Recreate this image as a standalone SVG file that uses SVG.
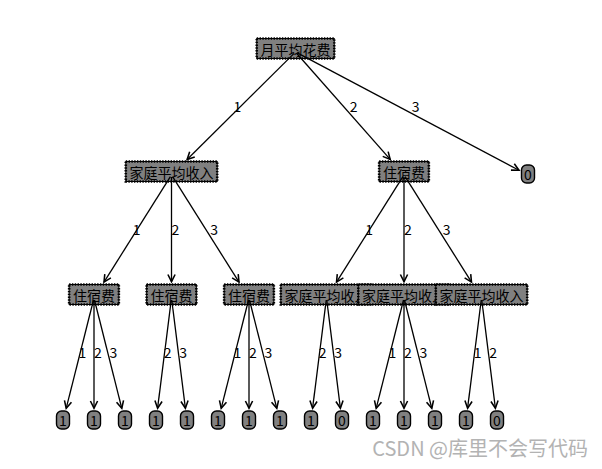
<svg xmlns="http://www.w3.org/2000/svg" width="602" height="469" viewBox="0 0 602 469">
<style>
.bg{fill:#ffffff}
.dec rect.f{fill:#808080;stroke:#000;stroke-width:1}
.dec rect.t{fill:none;stroke:#000;stroke-width:2.6;stroke-dasharray:1.4 1.4}
.leaf rect{fill:#808080;stroke:#000;stroke-width:1.4}
text{font-family:"Noto Sans CJK SC","DejaVu Sans",sans-serif;font-size:14px;fill:#000}
.nt{text-anchor:middle;dominant-baseline:central}
.lb{text-anchor:start}
.edges line{stroke:#000;stroke-width:1.3;marker-end:url(#ah)}
.wm{font-size:20px;fill:#b3b3b3;text-anchor:end}
</style>
<defs>
<marker id="ah" markerUnits="userSpaceOnUse" markerWidth="12" markerHeight="12" viewBox="-8 -5 10 10" refX="0" refY="0" orient="auto">
<path d="M-6,-3 L0,0 L-6,3" fill="none" stroke="#000" stroke-width="1.3"/>
</marker>
</defs>
<rect class="bg" x="0" y="0" width="602" height="469"/>

<g id="n-root" class="dec"><rect class="f" x="256.75" y="38.5" width="77.5" height="20"/><rect class="t" x="256.75" y="38.5" width="77.5" height="20"/><text class="nt" x="295.5" y="48.5">月平均花费</text></g>
<g id="n-A" class="dec"><rect class="f" x="125.8" y="161.5" width="91.4" height="20"/><rect class="t" x="125.8" y="161.5" width="91.4" height="20"/><text class="nt" x="171.5" y="171.5">家庭平均收入</text></g>
<g id="n-A1" class="dec"><rect class="f" x="69.15" y="284.5" width="49.7" height="20"/><rect class="t" x="69.15" y="284.5" width="49.7" height="20"/><text class="nt" x="94" y="294.5">住宿费</text></g>
<g id="l-1" class="leaf"><rect x="56.5" y="411" width="13" height="18" rx="5"/><text class="nt" x="63" y="420">1</text></g>
<g id="l-2" class="leaf"><rect x="87.5" y="411" width="13" height="18" rx="5"/><text class="nt" x="94" y="420">1</text></g>
<g id="l-3" class="leaf"><rect x="118.5" y="411" width="13" height="18" rx="5"/><text class="nt" x="125" y="420">1</text></g>
<g id="n-A2" class="dec"><rect class="f" x="146.65" y="284.5" width="49.7" height="20"/><rect class="t" x="146.65" y="284.5" width="49.7" height="20"/><text class="nt" x="171.5" y="294.5">住宿费</text></g>
<g id="l-4" class="leaf"><rect x="149.5" y="411" width="13" height="18" rx="5"/><text class="nt" x="156" y="420">1</text></g>
<g id="l-5" class="leaf"><rect x="180.5" y="411" width="13" height="18" rx="5"/><text class="nt" x="187" y="420">1</text></g>
<g id="n-A3" class="dec"><rect class="f" x="224.15" y="284.5" width="49.7" height="20"/><rect class="t" x="224.15" y="284.5" width="49.7" height="20"/><text class="nt" x="249" y="294.5">住宿费</text></g>
<g id="l-6" class="leaf"><rect x="211.5" y="411" width="13" height="18" rx="5"/><text class="nt" x="218" y="420">1</text></g>
<g id="l-7" class="leaf"><rect x="242.5" y="411" width="13" height="18" rx="5"/><text class="nt" x="249" y="420">1</text></g>
<g id="l-8" class="leaf"><rect x="273.5" y="411" width="13" height="18" rx="5"/><text class="nt" x="280" y="420">1</text></g>
<g id="n-B" class="dec"><rect class="f" x="379.15" y="161.5" width="49.7" height="20"/><rect class="t" x="379.15" y="161.5" width="49.7" height="20"/><text class="nt" x="404" y="171.5">住宿费</text></g>
<g id="n-B1" class="dec"><rect class="f" x="280.8" y="284.5" width="91.4" height="20"/><rect class="t" x="280.8" y="284.5" width="91.4" height="20"/><text class="nt" x="326.5" y="294.5">家庭平均收入</text></g>
<g id="l-9" class="leaf"><rect x="304.5" y="411" width="13" height="18" rx="5"/><text class="nt" x="311" y="420">1</text></g>
<g id="l-10" class="leaf"><rect x="335.5" y="411" width="13" height="18" rx="5"/><text class="nt" x="342" y="420">0</text></g>
<g id="n-B2" class="dec"><rect class="f" x="358.3" y="284.5" width="91.4" height="20"/><rect class="t" x="358.3" y="284.5" width="91.4" height="20"/><text class="nt" x="404" y="294.5">家庭平均收入</text></g>
<g id="l-11" class="leaf"><rect x="366.5" y="411" width="13" height="18" rx="5"/><text class="nt" x="373" y="420">1</text></g>
<g id="l-12" class="leaf"><rect x="397.5" y="411" width="13" height="18" rx="5"/><text class="nt" x="404" y="420">1</text></g>
<g id="l-13" class="leaf"><rect x="428.5" y="411" width="13" height="18" rx="5"/><text class="nt" x="435" y="420">1</text></g>
<g id="n-B3" class="dec"><rect class="f" x="435.8" y="284.5" width="91.4" height="20"/><rect class="t" x="435.8" y="284.5" width="91.4" height="20"/><text class="nt" x="481.5" y="294.5">家庭平均收入</text></g>
<g id="l-14" class="leaf"><rect x="459.5" y="411" width="13" height="18" rx="5"/><text class="nt" x="466" y="420">1</text></g>
<g id="l-15" class="leaf"><rect x="490.5" y="411" width="13" height="18" rx="5"/><text class="nt" x="497" y="420">0</text></g>
<g id="l-Z" class="leaf"><rect x="521.5" y="165" width="13" height="18" rx="5"/><text class="nt" x="528" y="174">0</text></g>

<g id="connectors" class="edges">
<line x1="294.1" y1="53.4" x2="187.1" y2="159.5"/>
<line x1="296.8" y1="53.5" x2="390.2" y2="159.4"/>
<line x1="297.3" y1="52.9" x2="519.0" y2="170.3"/>
<line x1="170.4" y1="176.7" x2="104.0" y2="282.1"/>
<line x1="171.5" y1="177" x2="171.5" y2="281.7"/>
<line x1="172.6" y1="176.7" x2="239.0" y2="282.1"/>
<line x1="402.9" y1="176.7" x2="336.5" y2="282.1"/>
<line x1="404" y1="177" x2="404" y2="281.7"/>
<line x1="405.1" y1="176.7" x2="471.5" y2="282.1"/>
<line x1="93.5" y1="300" x2="66.2" y2="408.3"/>
<line x1="94" y1="300" x2="94" y2="408.2"/>
<line x1="94.5" y1="300" x2="121.8" y2="408.3"/>
<line x1="171.25" y1="300" x2="157.6" y2="408.2"/>
<line x1="171.75" y1="300" x2="185.4" y2="408.2"/>
<line x1="248.5" y1="300" x2="221.2" y2="408.3"/>
<line x1="249" y1="300" x2="249" y2="408.2"/>
<line x1="249.5" y1="300" x2="276.8" y2="408.3"/>
<line x1="326.25" y1="300" x2="312.6" y2="408.2"/>
<line x1="326.75" y1="300" x2="340.4" y2="408.2"/>
<line x1="403.5" y1="300" x2="376.2" y2="408.3"/>
<line x1="404" y1="300" x2="404" y2="408.2"/>
<line x1="404.5" y1="300" x2="431.8" y2="408.3"/>
<line x1="481.25" y1="300" x2="467.6" y2="408.2"/>
<line x1="481.75" y1="300" x2="495.4" y2="408.2"/>
<text class="lb" x="233.5" y="111.5">1</text>
<text class="lb" x="349.75" y="111.5">2</text>
<text class="lb" x="411.75" y="111.5">3</text>
<text class="lb" x="132.75" y="234.5">1</text>
<text class="lb" x="171.5" y="234.5">2</text>
<text class="lb" x="210.25" y="234.5">3</text>
<text class="lb" x="365.25" y="234.5">1</text>
<text class="lb" x="404" y="234.5">2</text>
<text class="lb" x="442.75" y="234.5">3</text>
<text class="lb" x="78.5" y="357.5">1</text>
<text class="lb" x="94" y="357.5">2</text>
<text class="lb" x="109.5" y="357.5">3</text>
<text class="lb" x="163.75" y="357.5">2</text>
<text class="lb" x="179.25" y="357.5">3</text>
<text class="lb" x="233.5" y="357.5">1</text>
<text class="lb" x="249" y="357.5">2</text>
<text class="lb" x="264.5" y="357.5">3</text>
<text class="lb" x="318.75" y="357.5">2</text>
<text class="lb" x="334.25" y="357.5">3</text>
<text class="lb" x="388.5" y="357.5">1</text>
<text class="lb" x="404" y="357.5">2</text>
<text class="lb" x="419.5" y="357.5">3</text>
<text class="lb" x="473.75" y="357.5">1</text>
<text class="lb" x="489.25" y="357.5">2</text>
</g>
<text class="wm" x="588" y="456">CSDN @库里不会写代码</text>
</svg>
